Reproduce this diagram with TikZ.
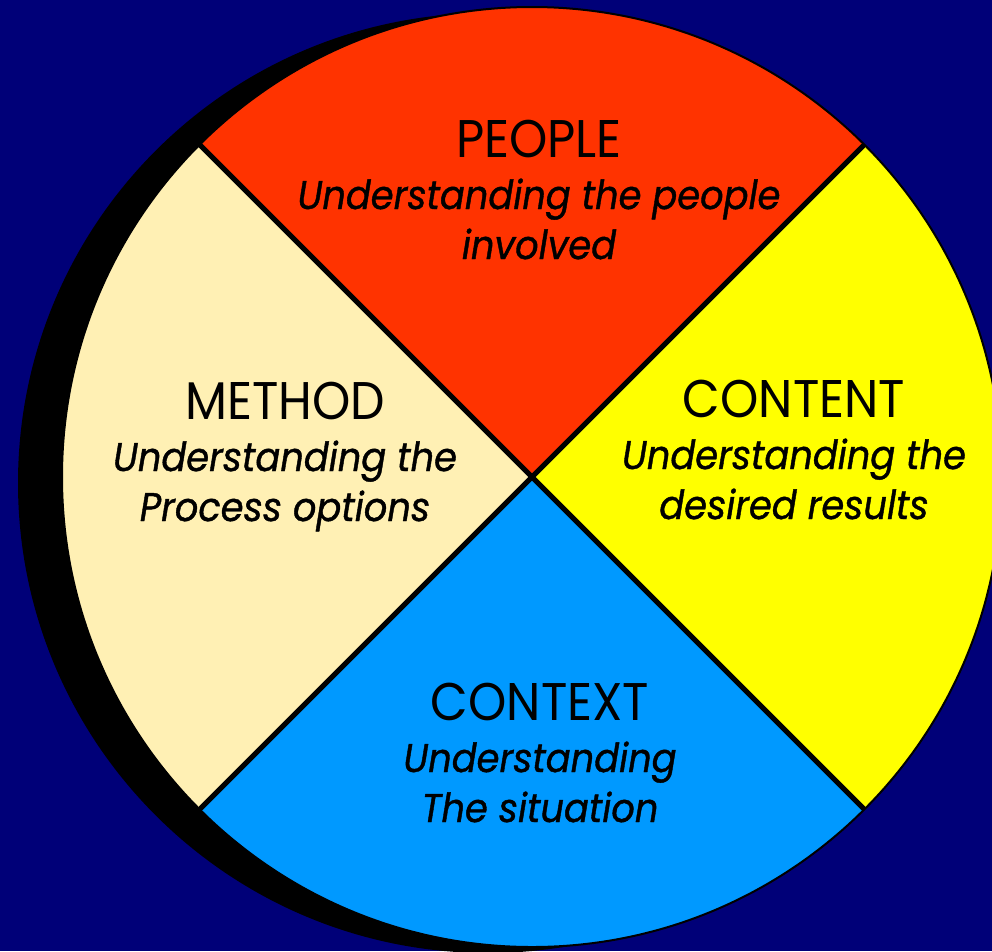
\documentclass[tikz,border=0pt]{standalone}
\usepackage{fontspec}
\setmainfont{Poppins}[FakeStretch=0.92,ItalicFeatures={FakeBold=1}]
\definecolor{navy}{RGB}{0,0,120}
\definecolor{peoplered}{RGB}{255,51,0}
\definecolor{contentyellow}{RGB}{255,255,0}
\definecolor{contextblue}{RGB}{0,153,255}
\definecolor{methodcream}{RGB}{255,240,180}

\begin{document}
\begin{tikzpicture}[x=1pt,y=-1pt,
    heading/.style={anchor=base,inner sep=0pt,font=\fontsize{53}{60}\selectfont},
    blurb/.style={anchor=base,inner sep=0pt,font=\fontsize{40}{50}\selectfont\itshape},
    divider/.style={black,line width=5pt}]
        \fill [navy] (0,0) rectangle (992,951);
        \useasboundingbox (0,0) rectangle (992,951);

        % shadow and wheel
        \coordinate (c) at (532,477);
        \fill [black] (488,483) circle [radius=470];
        \begin{scope}
            \clip (c) circle [radius=470];
            \fill [peoplered] (c) -- ++(-600,-600) -- ++(1200,0) -- cycle;
            \fill [contentyellow] (c) -- ++(600,-600) -- ++(0,1200) -- cycle;
            \fill [contextblue] (c) -- ++(600,600) -- ++(-1200,0) -- cycle;
            \fill [methodcream] (c) -- ++(-600,600) -- ++(0,-1200) -- cycle;
        \end{scope}
        \path (c) ++(-332,-332) coordinate (nw);
        \path (c) ++(332,-332) coordinate (ne);
        \path (c) ++(332,332) coordinate (se);
        \path (c) ++(-332,332) coordinate (sw);
        \draw [divider] (nw) -- (se);
        \draw [divider] (ne) -- (sw);
        \draw [black, line width=2pt] (c) circle [radius=470];

        % labels
        \foreach \name/\x/\y/\head/\lineA/\lineB in {
            people/539/157/PEOPLE/Understanding the people/involved,
            method/285/419/METHOD/Understanding the/Process options,
            content/794/417/CONTENT/Understanding the/desired results,
            context/540/720/CONTEXT/Understanding/The situation} {
            \node [heading] (\name) at (\x,\y) {\head};
            \node [blurb] (\name-a) at (\x,{\y+52}) {\lineA};
            \node [blurb] (\name-b) at (\x,{\y+102}) {\lineB};
        }
    \end{tikzpicture}
\end{document}
